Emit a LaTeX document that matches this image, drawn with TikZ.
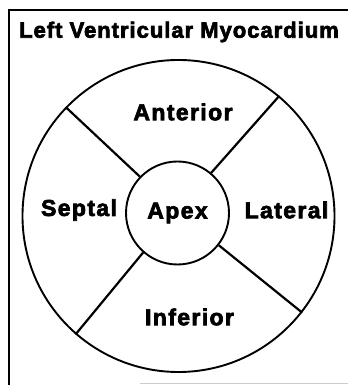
\documentclass[tikz,border=0pt]{standalone}
\usepackage{fontspec}
\setmainfont{Liberation Sans}
\newfontfamily\titlefont[LetterSpace=4.5, FakeBold=3]{Liberation Sans}
\newfontfamily\labfont[LetterSpace=6, FakeBold=3]{Liberation Sans}
\begin{document}
\begin{tikzpicture}[x=1pt,y=1pt,
  ring/.style={circle, draw, line width=1.9pt, inner sep=0pt},
  divider/.style={line width=2.2pt},
  frameline/.style={line width=1.8pt},
  lab/.style={font=\labfont\bfseries\fontsize{23}{23}\selectfont, inner sep=0pt},
  ttl/.style={font=\titlefont\bfseries\fontsize{22}{22}\selectfont, inner sep=0pt}]
\useasboundingbox (0,0) rectangle (348,385);
% frame (top and left edges)
\coordinate (fl) at (9,0);
\coordinate (ftl) at (9,375);
\coordinate (ftr) at (348,375);
\draw[frameline] (fl) -- (ftl) -- (ftr);
\coordinate (g1) at (140,2);
\coordinate (g2) at (348,2);
\draw[black!20, line width=0.8pt] (g1) -- (g2);
% title
\node[ttl] (title) at (179,353) {Left Ventricular Myocardium};
% circles
\node[ring, minimum size=312pt] (outer) at (178.5,169) {};
\node[ring, minimum size=103pt, lab] (apex) at (177.5,172) {Apex};
% dividers
\draw[divider] (apex.50) -- (outer.50);
\draw[divider] (apex.136) -- (outer.136);
\draw[divider] (apex.229) -- (outer.229);
\draw[divider] (apex.322) -- (outer.322);
% labels
\node[lab] (ant) at (183,273) {Anterior};
\node[lab] (sep) at (79,175) {Septal};
\node[lab] (lat) at (286.5,175) {Lateral};
\node[lab] (inf) at (189.5,68) {Inferior};
\end{tikzpicture}
\end{document}
